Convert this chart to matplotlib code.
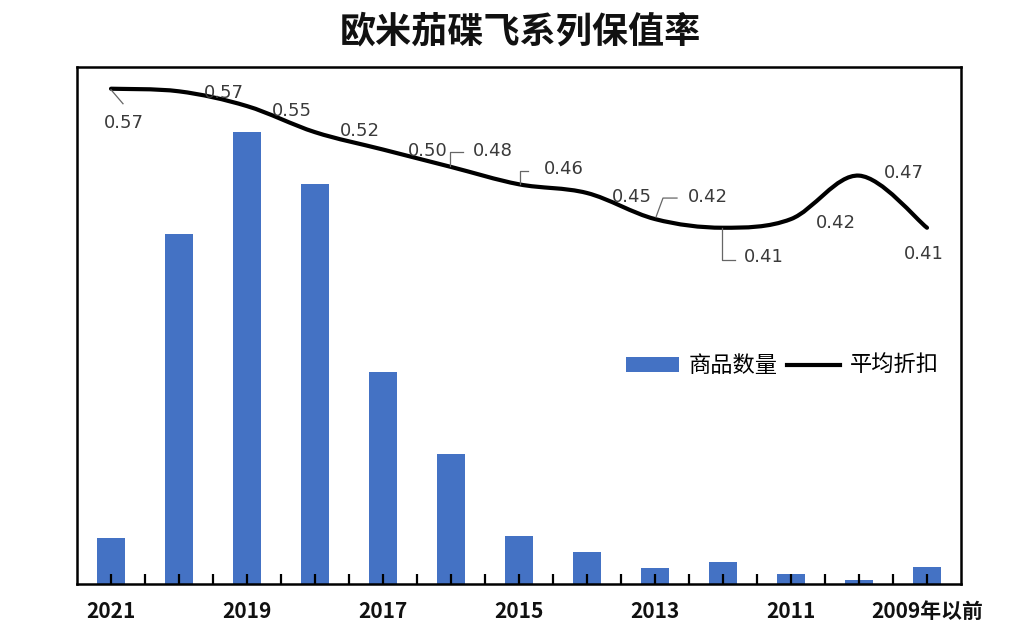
import matplotlib
matplotlib.use("Agg")
import matplotlib.pyplot as plt
from matplotlib.path import Path
from matplotlib.patches import PathPatch, Patch
from matplotlib.lines import Line2D

plt.rcParams['font.family'] = ['Noto Sans CJK SC', 'DejaVu Sans']

# Data
years = ['2021', '2020', '2019', '2018', '2017', '2016', '2015',
         '2014', '2013', '2012', '2011', '2010', '2009年以前']
counts = [46, 350, 452, 400, 212, 130, 48, 32, 16, 22, 10, 4, 17]
discount = [0.57, 0.567, 0.55, 0.52, 0.50, 0.48, 0.46, 0.45, 0.42, 0.41,
            0.42, 0.47, 0.41]

# label offsets in pixels (dx, dy) from each point
label_offsets = [(13, -34), (45, -2), (45, -5), (45, 1), (45, -1), (42, 16),
                 (45, 15), (45, -4), (53, 22), (41, -29), (45, -4), (45, 3),
                 (-3, -26)]
# leader lines: point index -> pixel offsets of vertices
leaders = {
    0: [(0, -1), (12, -15)],
    5: [(-1, 1), (-1, 15), (12, 15)],
    6: [(1, 0), (1, 13), (9, 13)],
    8: [(1, 2), (8, 21), (22, 21)],
    9: [(-1, 0), (-1, -32), (12, -32)],
}

BLUE = "#4472c4"
DARK = "#3a3a3a"

W, H = 1030, 634
fig = plt.figure(figsize=(W / 100, H / 100), dpi=100)
ax = fig.add_axes([77 / W, (H - 584) / H, (961 - 77) / W, (584 - 67) / H])

x = list(range(len(years)))
ax.bar(x, counts, width=0.42, color=BLUE, zorder=1)
ax.set_xlim(-0.5, len(years) - 0.5)
ax.set_ylim(0, 517)
ax.set_yticks([])
ax.set_xticks(x)
ax.set_xticklabels([y if i % 2 == 0 else '' for i, y in enumerate(years)],
                   fontsize=15, fontweight='bold', color='#111111')
ax.set_xticks([i + 0.5 for i in x[:-1]], minor=True)
ax.tick_params(axis='x', which='both', direction='in', length=7, width=1.6,
               color='black', pad=12)
for s in ax.spines.values():
    s.set_color('black')
    s.set_linewidth(1.8)

ax2 = ax.twinx()
ax2.set_ylim(0, 0.595)
ax2.set_yticks([])
for s in ax2.spines.values():
    s.set_visible(False)

# smoothed line (Catmull-Rom -> cubic Bezier)
pts = list(zip(x, discount))
verts = [pts[0]]
codes = [Path.MOVETO]
n = len(pts)
for i in range(n - 1):
    p0 = pts[i - 1] if i > 0 else pts[i]
    p1 = pts[i]
    p2 = pts[i + 1]
    p3 = pts[i + 2] if i + 2 < n else pts[i + 1]
    c1 = (p1[0] + (p2[0] - p0[0]) / 6, p1[1] + (p2[1] - p0[1]) / 6)
    c2 = (p2[0] - (p3[0] - p1[0]) / 6, p2[1] - (p3[1] - p1[1]) / 6)
    verts += [c1, c2, p2]
    codes += [Path.CURVE4] * 3
ax2.add_patch(PathPatch(Path(verts, codes), facecolor='none',
                        edgecolor='black', linewidth=3, capstyle='round',
                        zorder=3))


def px_to_data(i, dx, dy):
    px, py = ax2.transData.transform((i, discount[i]))
    return ax2.transData.inverted().transform((px + dx, py + dy))


for i, v in enumerate(discount):
    dx, dy = label_offsets[i]
    ax2.annotate(f"{v:.2f}", xy=(i, v), xytext=(dx, dy),
                 textcoords='offset pixels', ha='center', va='center',
                 fontsize=13, color=DARK, family='DejaVu Sans', zorder=4)

for i, offs in leaders.items():
    p = [px_to_data(i, dx, dy) for dx, dy in offs]
    ax2.plot([q[0] for q in p], [q[1] for q in p], color='#666666',
             linewidth=0.9, zorder=4)

handles = [Patch(facecolor=BLUE, edgecolor='none'),
           Line2D([], [], color='black', linewidth=3)]
ax.legend(handles, ['商品数量', '平均折扣'], loc='center',
          bbox_to_anchor=(0.798, 0.422), ncol=2, frameon=False, fontsize=16,
          handlelength=2.4, handleheight=0.65, handletextpad=0.45,
          columnspacing=0.4, borderpad=0)

fig.text(520 / W, 1 - 32 / H, '欧米茄碟飞系列保值率', ha='center', va='center',
         fontsize=26, fontweight='bold', color='#111111')

fig.savefig('out.png', dpi=100, facecolor='white')
